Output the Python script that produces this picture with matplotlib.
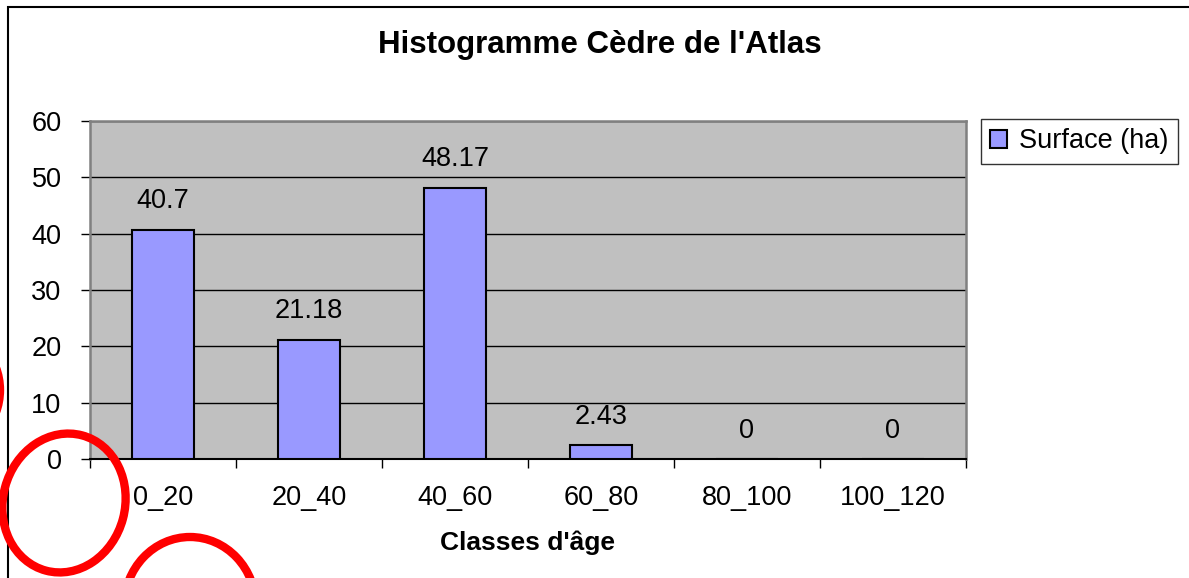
import matplotlib
matplotlib.use("Agg")
import matplotlib.pyplot as plt
from matplotlib.patches import Ellipse, Rectangle

# données
classes = ["0_20", "20_40", "40_60", "60_80", "80_100", "100_120"]
surface = [40.7, 21.18, 48.17, 2.43, 0, 0]
labels = ["40.7", "21.18", "48.17", "2.43", "0", "0"]
yticks = [0, 10, 20, 30, 40, 50, 60]

plt.rcParams['font.family'] = ['Liberation Sans', 'DejaVu Sans']

W, H = 1189, 578
fig = plt.figure(figsize=(W / 100, H / 100), dpi=100)
ax = fig.add_axes([90 / W, 1 - 459 / H, 876 / W, 338 / H])
ax.set_facecolor("#C0C0C0")

x = list(range(len(classes)))
ax.bar(x, surface, width=0.42, color="#9999FF", edgecolor="black",
       linewidth=1.5, zorder=3, label="Surface (ha)")

for xi, v, t in zip(x, surface, labels):
    ax.annotate(t, (xi, v), xytext=(0, 11), textcoords="offset points",
                ha="center", va="bottom", fontsize=19.5)

ax.set_xlim(-0.5, len(classes) - 0.5)
ax.set_ylim(0, 60)
ax.set_yticks(yticks)
ax.tick_params(axis="y", labelsize=19.5, length=6.5, width=1, pad=14)
ax.yaxis.grid(True, color="black", linewidth=1, zorder=1)
ax.set_axisbelow(True)

# ticks entre les classes
ax.set_xticks([i - 0.5 for i in range(len(classes) + 1)])
ax.set_xticklabels([])
ax.set_xticks(x, minor=True)
ax.set_xticklabels(classes, minor=True)
ax.tick_params(axis="x", which="major", length=6.5, width=1)
ax.tick_params(axis="x", which="minor", length=0, labelsize=19.5, pad=19)

for s in ["top", "right", "left"]:
    ax.spines[s].set_color("#808080")
    ax.spines[s].set_linewidth(1.8)
ax.spines["bottom"].set_color("black")
ax.spines["bottom"].set_linewidth(1.5)

ax.set_xlabel("Classes d'âge", fontsize=19, fontweight="bold", labelpad=14)
fig.text(600 / W, 1 - 45 / H, "Histogramme Cèdre de l'Atlas", ha="center",
         va="center", fontsize=22.5, fontweight="bold")

leg = ax.legend(loc="upper left", bbox_to_anchor=(1.017, 1.006), fontsize=19.5,
                frameon=True, fancybox=False, edgecolor="black",
                handlelength=0.6, handleheight=0.6, handletextpad=0.45,
                borderpad=0.35, borderaxespad=0)
leg.get_frame().set_linewidth(1)

# cadre du graphique
fig.patches.append(Rectangle((8 / W, -0.1), 1.2, 1 - 7 / H + 0.1,
                             transform=fig.transFigure, fill=False,
                             edgecolor="black", linewidth=1.5))

# cercles rouges (en pixels depuis le coin haut-gauche)
for cx, cy, w, h, a in [(64, 503, 122, 140, -15), (190, 607, 132, 140, 0),
                        (-56, 390, 112, 120, 0)]:
    fig.patches.append(Ellipse((cx / 100, (H - cy) / 100), w / 100, h / 100,
                               angle=a, transform=fig.dpi_scale_trans,
                               fill=False, edgecolor="red", linewidth=6))

fig.savefig("out.png", dpi=100)
